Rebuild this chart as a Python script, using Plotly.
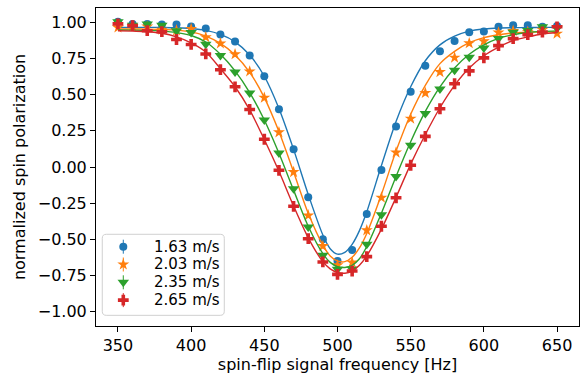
import plotly.graph_objects as go

freq = [350, 360, 370, 380, 390, 400, 410, 420, 430, 440, 450, 460, 470, 480, 490, 500,
        510, 520, 530, 540, 550, 560, 570, 580, 590, 600, 610, 620, 630, 640, 650]

pol_163 = [1.005, 0.99, 0.99, 0.985, 0.985, 0.972, 0.958, 0.917, 0.868, 0.772, 0.627, 0.40, 0.123, -0.21, -0.50, -0.65,
           -0.575, -0.325, -0.02, 0.28, 0.52, 0.70, 0.80, 0.871, 0.932, 0.938, 0.97, 0.981, 0.981, 0.971, 0.975]
pol_203 = [0.965, 0.975, 0.972, 0.95, 0.945, 0.955, 0.898, 0.855, 0.78, 0.661, 0.479, 0.24, -0.035, -0.335, -0.547, -0.68,
           -0.66, -0.438, -0.212, 0.10, 0.335, 0.512, 0.657, 0.757, 0.856, 0.87, 0.93, 0.942, 0.935, 0.95, 0.923]
pol_235 = [1.005, 0.98, 0.99, 0.98, 0.943, 0.93, 0.849, 0.772, 0.658, 0.512, 0.325, 0.097, -0.15, -0.415, -0.611, -0.708,
           -0.705, -0.535, -0.33, -0.066, 0.15, 0.37, 0.54, 0.67, 0.76, 0.824, 0.889, 0.932, 0.945, 0.97, 0.96]
pol_265 = [0.99, 0.978, 0.943, 0.936, 0.882, 0.848, 0.782, 0.673, 0.555, 0.398, 0.192, -0.023, -0.272, -0.496, -0.657, -0.743,
           -0.72, -0.62, -0.41, -0.213, 0.012, 0.212, 0.403, 0.576, 0.665, 0.755, 0.84, 0.888, 0.916, 0.934, 0.97]
pol_err = 0.015

fit_freq = [350, 360, 370, 380, 390, 400, 410, 420, 430, 440, 450, 460, 470, 480, 490, 495, 500, 505,
            510, 515, 520, 530, 540, 550, 560, 570, 580, 590, 600, 610, 620, 630, 640, 650]
fit_163 = [0.966, 0.966, 0.966, 0.965, 0.963, 0.958, 0.945, 0.917, 0.866, 0.775, 0.628, 0.405, 0.122, -0.19, -0.47, -0.565, -0.603, -0.59,
           -0.535, -0.44, -0.31, 0.01, 0.315, 0.555, 0.735, 0.845, 0.905, 0.94, 0.955, 0.962, 0.964, 0.965, 0.966, 0.966]
fit_203 = [0.955, 0.955, 0.954, 0.952, 0.947, 0.935, 0.905, 0.855, 0.775, 0.655, 0.48, 0.245, -0.035, -0.32, -0.54, -0.615, -0.65, -0.655,
           -0.625, -0.56, -0.46, -0.19, 0.11, 0.365, 0.565, 0.715, 0.80, 0.86, 0.895, 0.915, 0.927, 0.932, 0.935, 0.936]
fit_235 = [0.948, 0.947, 0.945, 0.94, 0.93, 0.91, 0.865, 0.78, 0.665, 0.515, 0.325, 0.095, -0.16, -0.41, -0.60, -0.66, -0.69, -0.695,
           -0.68, -0.635, -0.55, -0.32, -0.065, 0.175, 0.385, 0.555, 0.685, 0.78, 0.845, 0.89, 0.915, 0.93, 0.938, 0.942]
fit_265 = [0.943, 0.94, 0.936, 0.925, 0.9, 0.858, 0.795, 0.68, 0.555, 0.395, 0.19, -0.03, -0.27, -0.49, -0.655, -0.705, -0.73, -0.735,
           -0.72, -0.68, -0.615, -0.43, -0.21, 0.02, 0.225, 0.41, 0.565, 0.685, 0.77, 0.83, 0.875, 0.9, 0.92, 0.93]

labels = ['1.63 m/s', '2.03 m/s', '2.35 m/s', '2.65 m/s']
colors = ['#1f77b4', '#ff7f0e', '#2ca02c', '#d62728']
symbols = ['circle', 'star', 'triangle-down', 'cross']
sizes = [8, 9, 10, 9]
points = [pol_163, pol_203, pol_235, pol_265]
fits = [fit_163, fit_203, fit_235, fit_265]

fig = go.Figure()
for lab, col, sym, sz, pts, fit in zip(labels, colors, symbols, sizes, points, fits):
    fig.add_trace(go.Scatter(x=freq, y=pts, mode='markers', name=lab, showlegend=False,
                             marker=dict(color=col, symbol=sym, size=sz, line=dict(width=0)),
                             error_y=dict(type='constant', value=pol_err, color=col, thickness=1, width=0)))
    fig.add_trace(go.Scatter(x=fit_freq, y=fit, mode='lines', showlegend=False,
                             line=dict(color=col, width=1.4, shape='spline', smoothing=0.8)))

# legend drawn by hand (matplotlib style: marker with error bar, rounded box)
leg_x0, leg_x1, leg_y0, leg_y1 = 0.013, 0.2656, 0.0336, 0.2884
rx, ry = 0.0083, 0.0126
box = (f"M {leg_x0 + rx} {leg_y0} L {leg_x1 - rx} {leg_y0} Q {leg_x1} {leg_y0} {leg_x1} {leg_y0 + ry} "
       f"L {leg_x1} {leg_y1 - ry} Q {leg_x1} {leg_y1} {leg_x1 - rx} {leg_y1} "
       f"L {leg_x0 + rx} {leg_y1} Q {leg_x0} {leg_y1} {leg_x0} {leg_y1 - ry} "
       f"L {leg_x0} {leg_y0 + ry} Q {leg_x0} {leg_y0} {leg_x0 + rx} {leg_y0} Z")
fig.add_shape(type='path', path=box, xref='paper', yref='paper', layer='below',
              fillcolor='rgba(255,255,255,0.8)', line=dict(color='#d0d0d0', width=1))
leg_rows = [0.2494, 0.1934, 0.1374, 0.0814]
for lab, col, sym, sz, ry_ in zip(labels, colors, symbols, sizes, leg_rows):
    fig.add_trace(go.Scatter(x=[0.0565], y=[ry_], xaxis='x2', yaxis='y2', mode='markers', showlegend=False,
                             marker=dict(color=col, symbol=sym, size=sz, line=dict(width=0)),
                             error_y=dict(type='constant', value=0.022, color=col, thickness=1, width=0)))
    fig.add_annotation(x=0.1153, y=ry_, xref='paper', yref='paper', text=lab, showarrow=False,
                       xanchor='left', yanchor='middle', font=dict(size=15, color='black'))

axis_style = dict(showline=True, linecolor='black', linewidth=1, mirror=True, ticks='outside',
                  ticklen=5, tickcolor='black', showgrid=False, zeroline=False, automargin=False,
                  tickfont=dict(size=16, color='black'))

fig.update_xaxes(range=[335, 665], tickvals=[350, 400, 450, 500, 550, 600, 650],
                 title=dict(text='spin-flip signal frequency [Hz]', font=dict(size=16, color='black'), standoff=4),
                 **axis_style)
fig.update_yaxes(range=[-1.1, 1.1], tickvals=[-1, -0.75, -0.5, -0.25, 0, 0.25, 0.5, 0.75, 1],
                 ticktext=['\u22121.00', '\u22120.75', '\u22120.50', '\u22120.25', '0.00', '0.25', '0.50', '0.75', '1.00'],
                 title=dict(text='normalized spin polarization', font=dict(size=16, color='black'), standoff=8),
                 **axis_style)

fig.update_layout(
    width=584, height=384,
    margin=dict(l=96, r=5, t=8, b=58),
    plot_bgcolor='white', paper_bgcolor='white',
    font=dict(family='DejaVu Sans', size=16, color='black'),
    showlegend=False,
    xaxis2=dict(overlaying='x', range=[0, 1], visible=False, fixedrange=True),
    yaxis2=dict(overlaying='y', range=[0, 1], visible=False, fixedrange=True),
)

fig.write_html("out.html", post_script="document.body.style.margin='0';",
               config={'displayModeBar': False})
